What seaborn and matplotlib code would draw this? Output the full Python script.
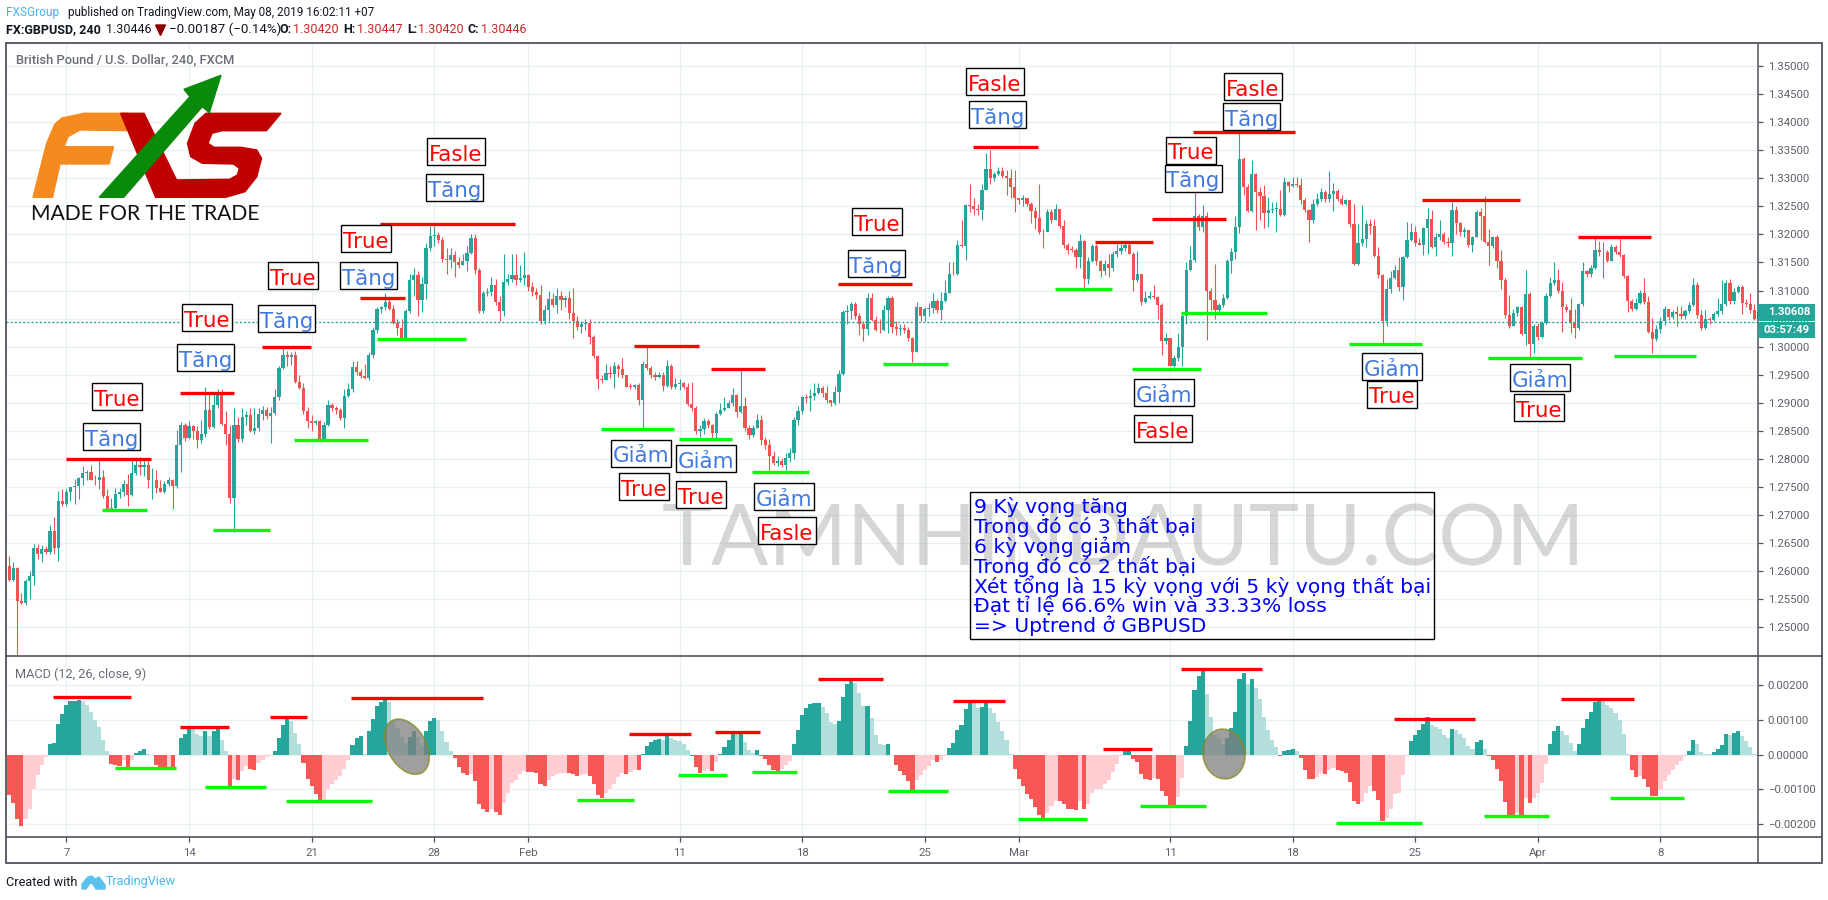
import pandas as pd
import matplotlib
matplotlib.use('Agg')
import matplotlib.pyplot as plt
from matplotlib.patches import Ellipse, Rectangle
import seaborn as sns

# GBPUSD 4h candles, prices in 1/10000
first_open = 12610
closes = [
    12585, 12605, 12547, 12544, 12582, 12591, 12642, 12630, 12640, 12634,
    12672, 12642, 12726, 12719, 12742, 12750, 12752, 12766, 12775, 12777,
    12763, 12762, 12767, 12734, 12711, 12712, 12738, 12742, 12755, 12735,
    12775, 12790, 12786, 12790, 12762, 12762, 12748, 12742, 12756, 12762,
    12752, 12825, 12860, 12837, 12858, 12849, 12833, 12845, 12888, 12857,
    12896, 12917, 12862, 12845, 12730, 12860, 12835, 12875, 12878, 12850,
    12855, 12880, 12887, 12876, 12882, 12911, 12962, 12985, 12982, 12985,
    12937, 12927, 12886, 12867, 12864, 12867, 12836, 12861, 12897, 12891,
    12887, 12873, 12913, 12925, 12963, 12955, 12948, 12945, 12985, 13030,
    13067, 13070, 13080, 13068, 13043, 13033, 13016, 13063, 13118, 13128,
    13083, 13112, 13175, 13198, 13199, 13190, 13157, 13154, 13163, 13150,
    13145, 13153, 13167, 13193, 13137, 13063, 13095, 13097, 13110, 13080,
    13063, 13115, 13120, 13127, 13118, 13122, 13127, 13107, 13097, 13092,
    13045, 13065, 13085, 13075, 13090, 13083, 13087, 13060, 13045, 13035,
    13040, 13042, 13017, 12983, 12943, 12940, 12954, 12952, 12965, 12961,
    12949, 12929, 12928, 12931, 12905, 12970, 12962, 12949, 12946, 12950,
    12930, 12966, 12929, 12934, 12935, 12929, 12898, 12890, 12850, 12853,
    12868, 12860, 12847, 12880, 12888, 12890, 12899, 12914, 12884, 12895,
    12855, 12843, 12855, 12870, 12834, 12825, 12805, 12793, 12797, 12790,
    12802, 12810, 12870, 12885, 12910, 12908, 12912, 12917, 12926, 12917,
    12905, 12899, 12920, 12951, 13061, 13063, 13076, 13055, 13040, 13032,
    13087, 13047, 13030, 13029, 13066, 13086, 13035, 13032, 13033, 13030,
    13015, 12990, 13070, 13054, 13068, 13069, 13081, 13065, 13082, 13095,
    13130, 13129, 13182, 13179, 13252, 13250, 13246, 13243, 13280, 13317,
    13300, 13308, 13313, 13304, 13300, 13285, 13264, 13261, 13264, 13255,
    13242, 13229, 13205, 13204, 13240, 13226, 13245, 13215, 13182, 13173,
    13172, 13160, 13188, 13120, 13152, 13180, 13152, 13135, 13148, 13140,
    13165, 13170, 13175, 13182, 13166, 13118, 13130, 13080, 13086, 13090,
    13089, 13075, 13010, 13015, 12966, 12980, 13000, 13055, 13137, 13155,
    13233, 13213, 13232, 13100, 13084, 13066, 13074, 13086, 13153, 13169,
    13214, 13334, 13284, 13241, 13308, 13276, 13269, 13238, 13244, 13245,
    13246, 13235, 13294, 13286, 13290, 13288, 13262, 13243, 13226, 13254,
    13263, 13276, 13263, 13272, 13278, 13263, 13254, 13261, 13219, 13147,
    13184, 13191, 13219, 13215, 13162, 13128, 13045, 13102, 13122, 13136,
    13106, 13160, 13190, 13204, 13184, 13182, 13211, 13228, 13178, 13195,
    13201, 13187, 13184, 13244, 13220, 13205, 13208, 13182, 13196, 13240,
    13232, 13187, 13179, 13195, 13152, 13119, 13056, 13036, 13060, 13070,
    13023, 13094, 13005, 13036, 13018, 13043, 13090, 13114, 13118, 13100,
    13070, 13066, 13042, 13033, 13076, 13134, 13130, 13141, 13172, 13168,
    13169, 13153, 13178, 13169, 13163, 13126, 13082, 13068, 13078, 13096,
    13080, 13027, 13013, 13031, 13046, 13068, 13053, 13061, 13059, 13055,
    13063, 13074, 13110, 13056, 13033, 13050, 13048, 13058, 13064, 13076,
    13114, 13081, 13098, 13107, 13078, 13076, 13065, 13049, 13061,
]
highs = [
    12627, 12617, 12608, 12561, 12587, 12600, 12648, 12648, 12646, 12645,
    12683, 12696, 12743, 12746, 12747, 12750, 12765, 12768, 12788, 12781,
    12790, 12772, 12798, 12781, 12747, 12731, 12749, 12749, 12763, 12774,
    12804, 12804, 12804, 12799, 12796, 12784, 12781, 12763, 12760, 12768,
    12765, 12852, 12866, 12864, 12867, 12861, 12858, 12869, 12929, 12920,
    12915, 12925, 12925, 12885, 12860, 12890, 12875, 12890, 12885, 12890,
    12890, 12890, 12895, 12892, 12892, 12925, 12965, 12998, 12992, 12990,
    12992, 12950, 12935, 12892, 12878, 12870, 12870, 12865, 12905, 12900,
    12895, 12890, 12925, 12935, 12975, 12975, 12960, 12970, 12990, 13035,
    13070, 13072, 13095, 13085, 13075, 13050, 13050, 13068, 13130, 13140,
    13135, 13125, 13185, 13215, 13215, 13205, 13195, 13175, 13175, 13170,
    13160, 13165, 13180, 13200, 13200, 13140, 13100, 13105, 13125, 13120,
    13090, 13165, 13130, 13165, 13165, 13145, 13168, 13130, 13115, 13105,
    13110, 13075, 13100, 13095, 13105, 13100, 13090, 13100, 13105, 13055,
    13045, 13050, 13050, 13020, 12985, 12950, 12970, 12965, 12973, 12970,
    12979, 12950, 12935, 12933, 12935, 12975, 12999, 12965, 12955, 12955,
    12955, 12976, 12970, 12945, 12942, 12937, 12936, 12937, 12895, 12860,
    12873, 12872, 12862, 12883, 12900, 12911, 12905, 12926, 12915, 12958,
    12911, 12860, 12860, 12880, 12878, 12840, 12835, 12815, 12805, 12802,
    12810, 12820, 12875, 12895, 12912, 12915, 12925, 12935, 12935, 12930,
    12930, 12905, 12930, 12958, 13065, 13075, 13080, 13080, 13060, 13045,
    13095, 13095, 13055, 13050, 13075, 13090, 13090, 13045, 13040, 13040,
    13035, 13018, 13080, 13070, 13070, 13078, 13095, 13085, 13098, 13118,
    13150, 13150, 13190, 13225, 13255, 13290, 13265, 13255, 13290, 13345,
    13350, 13312, 13320, 13320, 13315, 13317, 13315, 13265, 13270, 13265,
    13258, 13248, 13290, 13210, 13245, 13245, 13255, 13245, 13225, 13185,
    13180, 13175, 13200, 13190, 13160, 13183, 13183, 13155, 13155, 13165,
    13170, 13183, 13183, 13186, 13185, 13168, 13170, 13130, 13100, 13100,
    13110, 13090, 13078, 13025, 12995, 12985, 13025, 13062, 13150, 13180,
    13300, 13236, 13253, 13240, 13105, 13148, 13078, 13094, 13157, 13175,
    13232, 13383, 13338, 13290, 13333, 13310, 13285, 13288, 13267, 13258,
    13258, 13279, 13303, 13296, 13302, 13302, 13300, 13265, 13245, 13263,
    13273, 13282, 13279, 13313, 13291, 13281, 13270, 13263, 13258, 13254,
    13219, 13253, 13225, 13227, 13227, 13178, 13130, 13120, 13134, 13146,
    13160, 13162, 13223, 13220, 13215, 13193, 13214, 13247, 13244, 13202,
    13226, 13205, 13195, 13258, 13250, 13223, 13213, 13208, 13198, 13243,
    13247, 13269, 13209, 13198, 13199, 13172, 13122, 13092, 13068, 13072,
    13072, 13137, 13098, 13040, 13042, 13045, 13095, 13125, 13150, 13138,
    13116, 13076, 13086, 13068, 13078, 13150, 13136, 13145, 13193, 13189,
    13186, 13172, 13183, 13181, 13192, 13165, 13128, 13085, 13086, 13101,
    13122, 13090, 13052, 13038, 13053, 13072, 13068, 13065, 13072, 13072,
    13068, 13080, 13123, 13115, 13065, 13065, 13053, 13062, 13086, 13119,
    13118, 13120, 13104, 13110, 13110, 13085, 13096, 13076, 13065,
]
lows = [
    12582, 12582, 12450, 12541, 12539, 12551, 12576, 12622, 12616, 12630,
    12630, 12630, 12618, 12716, 12716, 12725, 12720, 12728, 12754, 12763,
    12762, 12754, 12747, 12731, 12710, 12710, 12710, 12731, 12734, 12716,
    12734, 12772, 12772, 12769, 12749, 12728, 12740, 12741, 12740, 12751,
    12710, 12749, 12776, 12832, 12835, 12835, 12819, 12829, 12840, 12853,
    12855, 12890, 12860, 12825, 12722, 12670, 12830, 12830, 12860, 12848,
    12845, 12850, 12870, 12872, 12828, 12878, 12905, 12960, 12965, 12968,
    12935, 12925, 12880, 12855, 12850, 12860, 12832, 12832, 12858, 12885,
    12880, 12870, 12855, 12910, 12920, 12950, 12945, 12942, 12940, 12980,
    13025, 13060, 13065, 13065, 13040, 13020, 13014, 13014, 13060, 13090,
    13055, 13062, 13085, 13170, 13180, 13185, 13150, 13130, 13140, 13125,
    13140, 13145, 13135, 13165, 13130, 13060, 13060, 13090, 13090, 13075,
    13045, 13055, 13110, 13115, 13110, 13115, 13110, 13100, 13090, 13085,
    13040, 13040, 13045, 13070, 13060, 13065, 13070, 13050, 13015, 13030,
    13025, 13030, 13005, 12980, 12925, 12935, 12940, 12945, 12926, 12946,
    12945, 12928, 12925, 12925, 12896, 12855, 12958, 12945, 12940, 12945,
    12921, 12928, 12925, 12925, 12923, 12925, 12895, 12885, 12845, 12840,
    12845, 12855, 12837, 12837, 12878, 12885, 12890, 12895, 12875, 12882,
    12850, 12835, 12840, 12855, 12825, 12817, 12780, 12790, 12787, 12785,
    12780, 12795, 12800, 12860, 12880, 12900, 12885, 12905, 12915, 12910,
    12900, 12895, 12897, 12900, 12950, 13040, 13050, 13050, 13020, 13010,
    13020, 13045, 13028, 13025, 13028, 13025, 13025, 13020, 13020, 13025,
    13010, 12973, 12990, 13045, 13045, 13055, 13060, 13060, 13048, 13080,
    13095, 13128, 13127, 13178, 13155, 13240, 13235, 13235, 13225, 13280,
    13290, 13295, 13305, 13300, 13270, 13265, 13240, 13255, 13250, 13250,
    13220, 13210, 13200, 13175, 13235, 13220, 13225, 13212, 13175, 13165,
    13168, 13140, 13140, 13100, 13112, 13150, 13145, 13125, 13128, 13125,
    13135, 13160, 13165, 13170, 13165, 13100, 13115, 13075, 13078, 13085,
    13085, 13050, 12985, 13005, 12965, 12963, 12975, 12965, 13040, 13135,
    13150, 13208, 13205, 13012, 13065, 13050, 13059, 13070, 13085, 13132,
    13157, 13203, 13270, 13240, 13240, 13208, 13226, 13211, 13214, 13238,
    13205, 13233, 13232, 13276, 13285, 13285, 13255, 13240, 13186, 13221,
    13250, 13260, 13258, 13258, 13242, 13260, 13252, 13252, 13214, 13146,
    13146, 13180, 13178, 13200, 13160, 13122, 13006, 13036, 13095, 13120,
    13100, 13083, 13158, 13188, 13180, 13182, 13163, 13165, 13176, 13162,
    13190, 13183, 13178, 13161, 13200, 13198, 13195, 13178, 13168, 13195,
    13190, 13185, 13146, 13175, 13140, 13102, 13052, 13034, 13036, 13055,
    13020, 13003, 12982, 12989, 13012, 13015, 13040, 13088, 13110, 13095,
    13027, 13062, 13025, 13015, 13030, 13073, 13125, 13124, 13138, 13162,
    13122, 13150, 13152, 13165, 13160, 13122, 13062, 13063, 13065, 13076,
    13076, 13025, 12988, 13011, 13025, 13039, 13048, 13050, 13036, 13050,
    13050, 13060, 13072, 13052, 13030, 13031, 13040, 13046, 13055, 13058,
    13072, 13076, 13076, 13095, 13059, 13070, 13060, 13048, 13046,
]
# MACD histogram, in 1/100000
macd_hist = [
    -115, -140, -186, -205, -186, -158, -98, -60, -29, -7,
    32, 33, 89, 117, 143, 155, 156, 158, 156, 143,
    124, 100, 79, 43, 10, -26, -31, -32, -14, -35,
    -14, 5, 12, 17, 2, -1, -29, -43, -44, -38,
    -43, 0, 48, 60, 74, 73, 60, 54, 69, 54,
    67, 74, 43, 12, -91, -70, -72, -48, -34, -41,
    -43, -24, -14, -8, -3, 11, 48, 86, 103, 98,
    62, 32, -24, -69, -91, -113, -138, -134, -100, -84,
    -74, -62, -40, -14, 29, 48, 53, 3, 69, 103,
    141, 153, 162, 153, 100, 76, 52, 33, 50, 69,
    50, 29, 69, 97, 105, 100, 67, 36, 12, -10,
    -36, -54, -60, -55, -76, -143, -156, -165, -158, -165,
    -174, -140, -112, -83, -73, -57, -46, -49, -51, -53,
    -86, -91, -74, -62, -57, -53, -52, -54, -57, -62,
    -60, -57, -62, -86, -115, -126, -110, -100, -84, -65,
    -54, -55, -49, -43, -44, 1, 26, 38, 41, 46,
    41, 57, 48, 41, 39, 32, 14, -3, -36, -54,
    -46, -41, -46, -21, 2, 22, 43, 67, 60, 61,
    37, 14, 5, 14, -3, -12, -31, -43, -48, -41,
    -29, -17, 32, 72, 115, 134, 146, 148, 149, 138,
    119, 94, 89, 98, 167, 203, 220, 208, 177, 140,
    141, 105, 57, 32, 29, 32, -2, -29, -46, -60,
    -76, -105, -74, -60, -45, -32, -14, -22, -14, -3,
    19, 35, 72, 86, 132, 153, 151, 135, 137, 148,
    134, 121, 94, 69, 43, 2, -40, -70, -91, -113,
    -129, -151, -174, -184, -167, -148, -134, -135, -143, -156,
    -158, -160, -134, -158, -143, -110, -100, -98, -84, -74,
    -50, -26, -3, 14, 15, -12, -22, -57, -70, -72,
    -67, -69, -105, -119, -145, -146, -122, -67, 26, 98,
    188, 226, 251, 175, 110, 57, 48, 30, 48, 76,
    124, 220, 237, 205, 218, 193, 160, 110, 72, 43,
    21, -5, 11, 14, 17, 11, -10, -43, -70, -71,
    -65, -54, -55, -43, -38, -43, -48, -53, -78, -134,
    -143, -137, -110, -89, -105, -131, -191, -183, -158, -113,
    -110, -60, -5, 40, 57, 72, 89, 108, 86, 79,
    75, 57, 49, 74, 72, 60, 48, 26, 16, 38,
    43, 17, -5, -14, -41, -76, -137, -180, -181, -167,
    -174, -126, -140, -124, -112, -81, -26, 31, 69, 83,
    69, 57, 33, 12, 32, 76, 103, 122, 151, 158,
    157, 143, 134, 119, 100, 60, 2, -45, -65, -62,
    -70, -93, -119, -120, -103, -76, -60, -43, -29, -19,
    -5, 11, 43, 32, 9, 2, 1, 8, 17, 29,
    60, 57, 64, 69, 54, 40, 22, 1, -5,
]

time_ticks = [14, 44, 74, 104, 127, 164, 194, 224, 247, 284, 314, 344, 374, 404]
time_labels = ['7', '14', '21', '28', 'Feb', '11', '18', '25', 'Mar', '11', '18', '25', 'Apr', '8']
price_ticks = [1.25 + 0.005 * k for k in range(21)]
macd_ticks = [-0.002, -0.001, 0.0, 0.001, 0.002]

# hand drawn levels: first bar, last bar, value
price_red = [
    (13.8, 34.8, 12800), (41.8, 54.9, 12918), (61.8, 73.8, 13000), (85.8, 96.8, 13086),
    (90.8, 123.8, 13218), (152.8, 168.7, 13002), (171.8, 184.8, 12961), (202.8, 220.8, 13111),
    (235.7, 251.7, 13355), (265.7, 279.8, 13187), (279.7, 297.7, 13228), (289.6, 314.7, 13383),
    (345.6, 369.6, 13262), (383.7, 401.7, 13196),
]
price_green = [
    (22.8, 33.8, 12709), (49.9, 63.8, 12673), (69.8, 87.8, 12833), (89.9, 111.8, 13014),
    (144.8, 162.6, 12854), (163.8, 176.8, 12835), (181.7, 195.7, 12777), (213.9, 229.7, 12970),
    (255.8, 269.8, 13102), (274.7, 291.7, 12961), (286.7, 307.7, 13060), (327.7, 345.6, 13004),
    (361.7, 384.7, 12979), (392.7, 412.7, 12984),
]
macd_red = [
    (10.8, 29.8, 168), (41.8, 53.8, 79), (63.8, 72.8, 108), (83.7, 115.9, 165),
    (151.7, 166.8, 59), (172.8, 183.7, 65), (197.8, 213.7, 220), (230.8, 243.7, 154),
    (267.7, 279.7, 16), (286.7, 306.6, 248), (338.7, 358.7, 102), (379.7, 397.6, 162),
]
macd_green = [
    (25.9, 40.8, -38), (47.9, 62.8, -93), (67.8, 88.8, -133), (138.8, 152.8, -130),
    (163.7, 175.7, -58), (181.7, 192.7, -50), (214.9, 229.7, -104), (246.8, 263.7, -187),
    (276.7, 292.7, -147), (324.7, 345.6, -196), (360.7, 376.7, -176), (391.7, 409.7, -124),
]

# text labels drawn on the chart, placed in image pixels
blue_labels = [
    ('Tăng', 111.7, 436.7), ('Tăng', 205.8, 357.7), ('Tăng', 286.8, 318.7), ('Tăng', 368.9, 275.7),
    ('Tăng', 454.9, 187.7), ('Tăng', 876, 263.7), ('Tăng', 997.8, 114.7), ('Tăng', 1193, 178),
    ('Tăng', 1251.8, 116.7), ('Giảm', 640.6, 453), ('Giảm', 705.9, 458.7), ('Giảm', 783.8, 496.7),
    ('Giảm', 1163.9, 392.7), ('Giảm', 1391.7, 366.7), ('Giảm', 1540, 377.7),
]
red_labels = [
    ('True', 116.7, 396.7), ('True', 206.6, 317.7), ('True', 292.6, 275.7), ('True', 365.8, 238.7),
    ('Fasle', 455.6, 151.7), ('True', 876.8, 221.7), ('Fasle', 994.6, 81.7), ('True', 1190.7, 150),
    ('Fasle', 1252.6, 86.7), ('True', 643.9, 486.7), ('True', 700.9, 494.7), ('Fasle', 786.5, 530.7),
    ('Fasle', 1162.7, 428.7), ('True', 1391.7, 394), ('True', 1539, 407.7),
]
summary_lines = [
    '9 Kỳ vọng tăng',
    'Trong đó có 3 thất bại',
    '6 kỳ vọng giảm',
    'Trong đó có 2 thất bại',
    'Xét tổng là 15 kỳ vọng với 5 kỳ vọng thất bại',
    'Đạt tỉ lệ 66.6% win và 33.33% loss',
    '=> Uptrend ở GBPUSD',
]
box_widths = {'Tăng': 57, 'Giảm': 60, 'True': 50, 'Fasle': 58}

UP = '#26a69a'
DOWN = '#ef5350'
GRID = '#e6f1f6'
AXIS = '#50535e'
W, H = 1828, 900

sns.set_theme(style='white')
plt.rcParams['font.family'] = ['Roboto', 'DejaVu Sans']
plt.rcParams['axes.unicode_minus'] = True

# 1. Build the tables
opens = [first_open] + closes[:-1]
candles = pd.DataFrame({'bar': range(len(closes)), 'open': opens, 'close': closes, 'high': highs, 'low': lows})
candles[['open', 'close', 'high', 'low']] = candles[['open', 'close', 'high', 'low']] / 10000
candles['bottom'] = candles[['open', 'close']].min(axis=1)
candles['body'] = (candles['close'] - candles['open']).abs().clip(lower=0.00012)
candles['rising'] = candles['close'] >= candles['open']

macd = pd.DataFrame({'bar': range(len(macd_hist)), 'hist': macd_hist})
macd['hist'] = macd['hist'] / 100000
grow = macd['hist'].diff().fillna(-1)
macd['shade'] = 'pink'
macd.loc[(macd['hist'] < 0) & (grow <= 0), 'shade'] = 'red'
macd.loc[(macd['hist'] >= 0) & (grow >= 0), 'shade'] = 'teal'
macd.loc[(macd['hist'] >= 0) & (grow < 0), 'shade'] = 'mint'
shade_colors = {'teal': UP, 'mint': '#b2dfdb', 'red': '#f95656', 'pink': '#ffcdd2'}

fig = plt.figure(figsize=(W / 100, H / 100), dpi=100, facecolor='white')


def pane(top, bottom):
    return fig.add_axes([6 / W, 1 - bottom / H, (1758 - 6) / W, (bottom - top) / H])


ax_price = pane(43, 656)
ax_macd = pane(656, 837)

# 2. Candles
for is_up, color in [(True, UP), (False, DOWN)]:
    part = candles[candles['rising'] == is_up]
    ax_price.vlines(part['bar'], part['low'], part['high'], color=color, linewidth=0.8, zorder=2)
    sns.barplot(x=part['bar'].values, y=part['body'].values, bottom=part['bottom'].values, ax=ax_price,
                native_scale=True, color=color, saturation=1, width=0.78, linewidth=0, errorbar=None, zorder=3)

ax_price.axhline(1.30446, color=UP, linewidth=1, linestyle=(0, (1.5, 1.5)), zorder=4)
for x0, x1, level in price_red:
    ax_price.hlines(level / 10000, x0, x1, color='#ff0000', linewidth=2.4, zorder=5)
for x0, x1, level in price_green:
    ax_price.hlines(level / 10000, x0, x1, color='#00ff00', linewidth=2.4, zorder=5)

# 3. MACD histogram
sns.barplot(data=macd, x='bar', y='hist', hue='shade', palette=shade_colors, ax=ax_macd, native_scale=True,
            dodge=False, saturation=1, width=1.0, linewidth=0, errorbar=None, legend=False, zorder=3)
for x0, x1, level in macd_red:
    ax_macd.hlines(level / 100000, x0, x1, color='#ff0000', linewidth=2.4, zorder=5)
for x0, x1, level in macd_green:
    ax_macd.hlines(level / 100000, x0, x1, color='#00ff00', linewidth=2.4, zorder=5)

# 4. Axes
x_left = (6 - 66.4) / 4.0874 + 14
x_right = (1758 - 66.4) / 4.0874 + 14
ax_price.set_ylim(1.2449, 1.3541)
ax_macd.set_ylim(-0.002377, 0.00285)
for ax, ticks in [(ax_price, price_ticks), (ax_macd, macd_ticks)]:
    ax.set_xlim(x_left, x_right)
    ax.set_xlabel('')
    ax.set_ylabel('')
    ax.set_xticks(time_ticks)
    ax.yaxis.tick_right()
    ax.set_yticks(ticks)
    ax.set_yticklabels(['{:.5f}'.format(t).replace('-', '−') for t in ticks], color='#5d606b', fontsize=8.2)
    ax.set_axisbelow(True)
    ax.grid(True, color=GRID, linewidth=0.9)
    ax.tick_params(axis='y', length=3.6, width=0.9, color=AXIS, pad=3.5, right=True)
    for spine in ax.spines.values():
        spine.set_visible(False)
ax_price.tick_params(axis='x', length=0, labelbottom=False)
ax_macd.set_xticklabels(time_labels, color='#5d606b', fontsize=8.2)
ax_macd.tick_params(axis='x', length=3.6, width=0.9, color=AXIS, pad=4.5, bottom=True)

# 5. Everything else sits on a layer measured in image pixels
ov = fig.add_axes([0, 0, 1, 1], zorder=10)
ov.set_xlim(0, W)
ov.set_ylim(H, 0)
ov.axis('off')
ov.patch.set_alpha(0)

ov.add_patch(Rectangle((6, 43), 1816, 820, fill=False, ec=AXIS, lw=1.3, zorder=6))
ov.plot([1758, 1758], [43, 863], color=AXIS, lw=1.1, zorder=6)
ov.plot([6, 1822], [656, 656], color=AXIS, lw=1.2, zorder=6)
ov.plot([6, 1822], [837, 837], color=AXIS, lw=1.2, zorder=6)

ov.text(1123.5, 565, 'TAMNHINDAUTU.COM', color='#7a7a7a', alpha=0.3, fontsize=61, family='Lato',
        ha='center', va='baseline', zorder=1)

# ellipses over the MACD pane
ov.add_patch(Ellipse((407, 746.7), 38, 60, angle=-30, fc='#7f7f7f', ec='#8a8a20', lw=1.2, alpha=0.75, zorder=3))
ov.add_patch(Ellipse((1224, 754), 42, 50, angle=-10, fc='#7f7f7f', ec='#8a8a20', lw=1.2, alpha=0.75, zorder=3))

# logo
ov.fill([33, 46.7, 55, 62, 84, 128, 134, 80, 68, 64, 113.6, 109, 60, 52.5],
        [197.3, 143.3, 124, 118, 113.3, 113.3, 130.7, 130, 136.7, 146.7, 146.7, 164, 164, 197.3],
        color='#f58a1f', zorder=3)
ov.fill([120.6, 144, 185, 155.6], [113.3, 113.3, 197.3, 197.3], color='#c00000', zorder=3)
ov.fill([281, 206, 195, 187.5, 190.7, 202.3, 233.5, 239.3, 237.4, 229.6, 167.3, 183, 225.7, 245, 256.8, 261.5,
         256.8, 241, 214, 208, 212, 221.8, 266.5],
        [113.3, 113.3, 123.3, 143.3, 156.7, 163.3, 164, 168.3, 175, 179.3, 180, 197.3, 197.3, 191.7, 176.7, 158.3,
         150, 147.3, 147.3, 143.3, 133.3, 130.7, 130.7], color='#c00000', zorder=3)
ov.fill([99.2, 189.9, 184, 221, 209.3, 202.3, 123.7], [197.3, 96.7, 89.3, 75.3, 112.7, 106.7, 197.3],
        color='#0a8a0a', zorder=3)
ov.text(144.8, 213.5, 'MADE FOR THE TRADE', color='#111111', fontsize=15.2, family='Lato',
        ha='center', va='center', zorder=3)

# summary box
ov.add_patch(Rectangle((969.7, 492.3), 464.6, 147, fill=False, ec='black', lw=1.0, zorder=4))
for n, line in enumerate(summary_lines):
    ov.text(973.5, 506.7 + n * 19.8, line, color='#0000ff', fontsize=14.55, family='DejaVu Sans',
            va='center', ha='left', zorder=4)

# boxed labels
for labels, color in [(blue_labels, '#3f78de'), (red_labels, '#ff0000')]:
    for text, x, y in labels:
        bw = box_widths[text]
        ov.add_patch(Rectangle((x - bw / 2, y - 13.5), bw, 27, fc='white', ec='black', lw=1.0, zorder=5))
        ov.text(x, y + 1, text, color=color, fontsize=15.4, family='DejaVu Sans', ha='center',
                va='center_baseline', zorder=5.5)

# header
ink = '#131722'
ov.text(6, 12.7, 'FXSGroup', color='#45b6f0', fontsize=8.6, va='center', ha='left')
ov.text(68, 12.7, 'published on TradingView.com, May 08, 2019 16:02:11 +07', color=ink, fontsize=8.5,
        va='center', ha='left')
ov.text(6, 29.5, 'FX:GBPUSD, 240', color=ink, fontsize=9.0, weight='bold', va='center', ha='left')
ov.text(106, 29.5, '1.30446', color=ink, fontsize=9.0, va='center', ha='left')
ov.fill([155.6, 165.5, 160.5], [25, 25, 35.5], color='#8b0000')
ov.text(169, 29.5, '−0.00187 (−0.14%)', color=ink, fontsize=9.6, va='center', ha='left')
for label, lx, value, vx in [('O:', 279, '1.30420', 293), ('H:', 343, '1.30447', 357),
                             ('L:', 407.4, '1.30420', 418), ('C:', 468, '1.30446', 480.5)]:
    ov.text(lx, 29.5, label, color=ink, fontsize=9.0, weight='bold', va='center', ha='left')
    ov.text(vx, 29.5, value, color='#c62828', fontsize=9.0, va='center', ha='left')

ov.text(15.5, 60, 'British Pound / U.S. Dollar, 240, FXCM', color='#6a6d78', fontsize=9.3, weight='medium',
        va='center', ha='left')
ov.text(15, 674, 'MACD (12, 26, close, 9)', color='#6a6d78', fontsize=9.2, va='center', ha='left')

# price tag
ov.add_patch(Rectangle((1758, 304), 57, 16.5, fc=UP, ec='none', zorder=6))
ov.add_patch(Rectangle((1758, 322), 57, 16, fc=UP, ec='none', zorder=6))
ov.text(1768.5, 312.3, '1.30608', color='white', fontsize=8.2, weight='bold', va='center', ha='left', zorder=7)
ov.text(1764, 330, '03:57:49', color='white', fontsize=8.2, weight='bold', va='center', ha='left', zorder=7)

# footer
ov.text(6, 882, 'Created with', color=ink, fontsize=9.2, va='center', ha='left')
ov.fill([82, 88, 92, 95, 99, 105, 105, 96, 93, 90, 86, 82],
        [884, 877, 876, 879, 877, 885, 889, 889, 884, 883, 889, 889], color='#5bc1ee')
ov.text(106, 882, 'TradingView', color='#45b6f0', fontsize=9.0, va='center', ha='left')

fig.savefig('out.png', dpi=100)
